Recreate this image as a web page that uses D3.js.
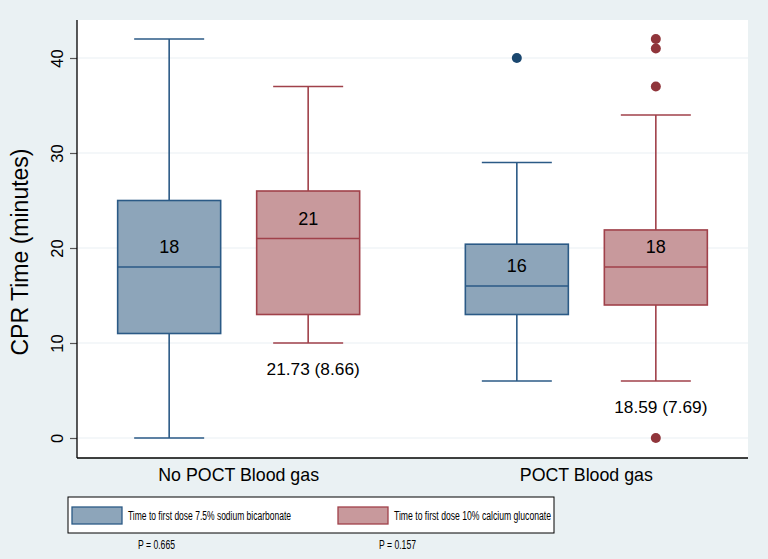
<!DOCTYPE html>
<html><head><meta charset="utf-8">
<script src="https://cdn.jsdelivr.net/npm/d3@7"></script>
<style>html,body{margin:0;padding:0;background:#eaf1f3;}svg{display:block;}</style>
</head><body>
<script>
const categories = ["No POCT Blood gas", "POCT Blood gas"];
const seriesNames = ["Time to first dose 7.5% sodium bicarbonate", "Time to first dose 10% calcium gluconate"];
// per category, per series: [min, q1, median, q3, max]
const blueStats = [[0, 11, 18, 25, 42], [6, 13, 16, 20.4, 29]];
const redStats  = [[10, 13, 21, 26, 37], [6, 14, 18, 21.9, 34]];
const blueOutliers = [[], [40]];
const redOutliers  = [[], [42, 41, 37, 0]];
const meanSdLabels = ["21.73 (8.66)", "18.59 (7.69)"];
const pValues = ["P = 0.665", "P = 0.157"];
const yTicks = [0, 10, 20, 30, 40];

const W = 768, H = 559;
const FONT = "Liberation Sans, Arial, sans-serif";
const svg = d3.select("body").append("svg").attr("width", W).attr("height", H);
svg.append("rect").attr("width", W).attr("height", H).attr("fill", "#eaf1f3");

const plot = {l: 77, r: 748, t: 20, b: 458};
svg.append("rect").attr("x", plot.l).attr("y", plot.t).attr("width", plot.r - plot.l).attr("height", plot.b - plot.t).attr("fill", "#fff");

const y = d3.scaleLinear().domain([0, 40]).range([438, 58]);
const x = d3.scalePoint().domain(categories).range([plot.l, plot.r]).padding(0.465);
const sub = d3.scalePoint().domain([0, 1]).range([-69.5, 69.5]);

// grid
svg.append("g").selectAll("line").data(yTicks).join("line")
  .attr("x1", plot.l).attr("x2", plot.r).attr("y1", d => y(d)).attr("y2", d => y(d))
  .attr("stroke", "#eaf0f4").attr("stroke-width", 1.2);

// y axis
const yAxis = svg.append("g").attr("transform", `translate(${plot.l},0)`)
  .call(d3.axisLeft(y).tickValues(yTicks).tickSize(7).tickPadding(8));
yAxis.select(".domain").remove();
yAxis.selectAll(".tick line").attr("stroke", "#555").attr("stroke-width", 1.2);
yAxis.selectAll(".tick text").attr("font-family", FONT).attr("font-size", 16.5).attr("fill", "#000")
  .attr("transform", "rotate(-90)").attr("x", 0).attr("y", -14).attr("dy", "0").attr("text-anchor", "middle");

svg.append("line").attr("x1", plot.l).attr("x2", plot.l).attr("y1", plot.t).attr("y2", plot.b).attr("stroke", "#000").attr("stroke-width", 1.3);
svg.append("line").attr("x1", plot.l).attr("x2", plot.r).attr("y1", plot.b).attr("y2", plot.b).attr("stroke", "#000").attr("stroke-width", 1.3);

// y title
svg.append("text").attr("transform", `translate(28,252) rotate(-90)`)
  .attr("text-anchor", "middle").attr("font-family", FONT).attr("font-size", 23)
  .text("CPR Time (minutes)");

// x labels
svg.append("g").selectAll("text").data(categories).join("text")
  .attr("x", d => x(d)).attr("y", 481).attr("text-anchor", "middle")
  .attr("font-family", FONT).attr("font-size", 17.8).text(d => d);

const styles = [
  {fill: "#8da5ba", stroke: "#2b5a86", dot: "#1a476f", stats: blueStats, out: blueOutliers},
  {fill: "#c8999c", stroke: "#a0414a", dot: "#90353b", stats: redStats, out: redOutliers}
];
const boxW = 103, capW = 70;

styles.forEach((s, si) => {
  const g = svg.append("g");
  categories.forEach((c, ci) => {
    const [mn, q1, md, q3, mx] = s.stats[ci];
    const cx = x(c) + sub(si);
    const ln = (x1, x2, y1, y2) => g.append("line").attr("x1", x1).attr("x2", x2).attr("y1", y1).attr("y2", y2)
      .attr("stroke", s.stroke).attr("stroke-width", 1.6);
    ln(cx, cx, y(mx), y(q3));
    ln(cx, cx, y(q1), y(mn));
    ln(cx - capW/2, cx + capW/2, y(mx), y(mx));
    ln(cx - capW/2, cx + capW/2, y(mn), y(mn));
    g.append("rect").attr("x", cx - boxW/2).attr("y", y(q3)).attr("width", boxW).attr("height", y(q1) - y(q3))
      .attr("fill", s.fill).attr("stroke", s.stroke).attr("stroke-width", 1.6);
    ln(cx - boxW/2, cx + boxW/2, y(md), y(md));
    g.append("text").attr("x", cx).attr("y", y(md) - 20).attr("dy", "0.35em").attr("text-anchor", "middle")
      .attr("font-family", FONT).attr("font-size", 18).text(md);
    g.selectAll(null).data(s.out[ci]).join("circle").attr("cx", cx).attr("cy", d => y(d)).attr("r", 5).attr("fill", s.dot);
    if (si === 1) {
      g.append("text").attr("x", cx + 5).attr("y", y(mn) + 26).attr("dy", "0.35em").attr("text-anchor", "middle")
        .attr("font-family", FONT).attr("font-size", 17.3).text(meanSdLabels[ci]);
    }
  });
});

// legend
const lg = svg.append("g");
lg.append("rect").attr("x", 68).attr("y", 497).attr("width", 486).attr("height", 36).attr("fill", "#fff").attr("stroke", "#000").attr("stroke-width", 1);
const legX = [72, 338];
const legLen = [163, 157];
seriesNames.forEach((n, i) => {
  lg.append("rect").attr("x", legX[i]).attr("y", 507).attr("width", 50).attr("height", 17)
    .attr("fill", styles[i].fill).attr("stroke", styles[i].stroke).attr("stroke-width", 1.3);
  lg.append("text").attr("x", legX[i] + 56).attr("y", 519.5).attr("font-family", FONT)
    .attr("font-size", 12.3).attr("textLength", legLen[i]).attr("lengthAdjust", "spacingAndGlyphs").text(n);
});

// p values
svg.append("g").selectAll("text").data(pValues).join("text")
  .attr("x", (d, i) => [138, 379][i]).attr("y", 549)
  .attr("font-family", FONT).attr("font-size", 12.3).attr("textLength", 37).attr("lengthAdjust", "spacingAndGlyphs").text(d => d);
</script>
</body></html>
